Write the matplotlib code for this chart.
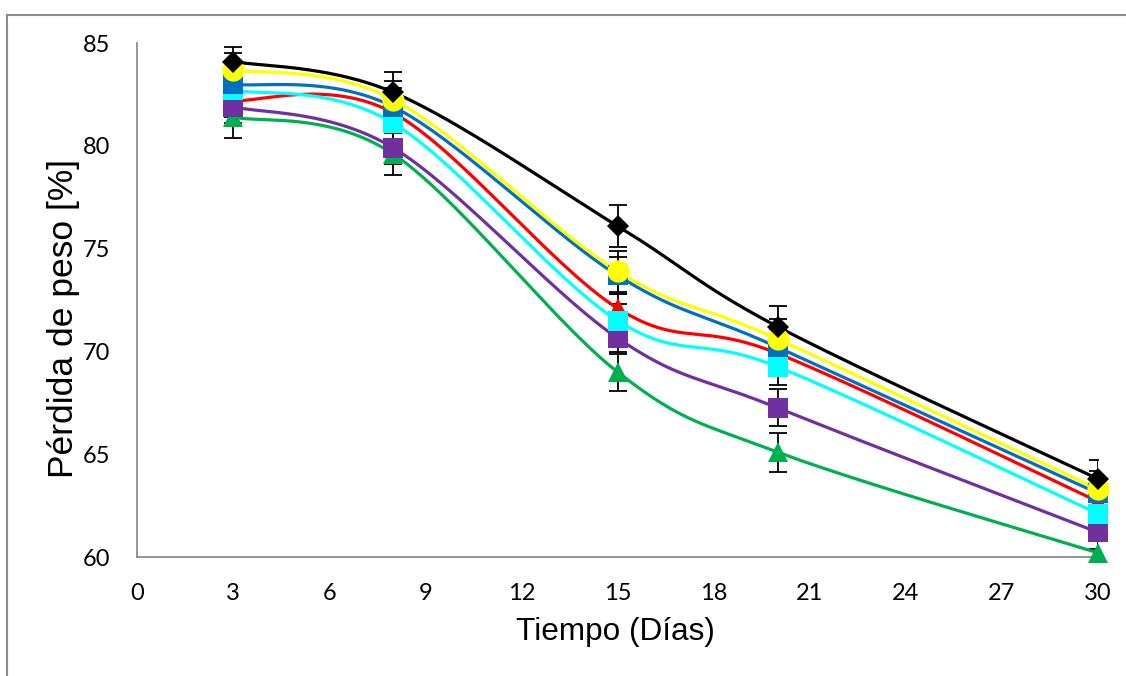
import numpy as np
import matplotlib
matplotlib.use("Agg")
import matplotlib.pyplot as plt
from matplotlib.lines import Line2D

# ---- data ----
days = [3, 8, 15, 20, 30]
black = [84.1, 82.6, 76.1, 71.2, 63.8]
yellow = [83.7, 82.25, 73.9, 70.6, 63.3]
blue = [83.0, 81.9, 73.7, 70.2, 63.1]
red = [82.2, 81.6, 72.1, 69.9, 62.7]
cyan = [82.7, 81.1, 71.5, 69.25, 62.1]
purple = [81.9, 79.9, 70.65, 67.25, 61.2]
green = [81.4, 79.6, 69.0, 65.1, 60.2]

err_black = [0.7, 1.0, 1.0, 1.0, 0.9]
err_yellow = [0.8, 0.9, 1.0, 1.0, 0.9]
err_blue = [0.8, 0.9, 0.9, 0.9, 0.8]
err_red = [0.8, 0.8, 0.7, 0.8, 0.8]
err_cyan = [0.8, 0.8, 0.8, 0.9, 0.8]
err_purple = [0.8, 0.8, 0.8, 0.9, 0.8]
err_green = [1.0, 1.0, 0.95, 0.95, 0.8]

xticks = [0, 3, 6, 9, 12, 15, 18, 21, 24, 27, 30]
yticks = [60, 65, 70, 75, 80, 85]


def smooth(xs, ys, n=60):
    """Excel-like smoothed line (Catmull-Rom as cubic Bezier)."""
    P = np.column_stack([xs, ys]).astype(float)
    m = len(P)
    out = []
    for i in range(m - 1):
        p0 = P[i - 1] if i > 0 else P[i]
        p1 = P[i]
        p2 = P[i + 1]
        p3 = P[i + 2] if i + 2 < m else P[i + 1]
        c1 = p1 + (p2 - p0) / 6.0
        c2 = p2 - (p3 - p1) / 6.0
        t = np.linspace(0, 1, n)[:, None]
        seg = ((1 - t) ** 3) * p1 + 3 * ((1 - t) ** 2) * t * c1 + 3 * (1 - t) * t ** 2 * c2 + t ** 3 * p2
        out.append(seg if i == 0 else seg[1:])
    s = np.vstack(out)
    return s[:, 0], s[:, 1]


fig = plt.figure(figsize=(11.26, 6.76), dpi=100)
ax = fig.add_axes([137 / 1126, 1 - 557 / 676, (1098 - 137) / 1126, (557 - 43) / 676])

series = [
    (green, err_green, "#00B050", "^", 15),
    (red, err_red, "#FF0000", "^", 15),
    (purple, err_purple, "#7030A0", "s", 14.5),
    (cyan, err_cyan, "#00FFFF", "s", 14.5),
    (blue, err_blue, "#0070C0", "s", 14.5),
    (yellow, err_yellow, "#FFFF00", "o", 16),
    (black, err_black, "#000000", "D", 11),
]

for k, (ys, es, col, mk, ms) in enumerate(series):
    ax.errorbar(days, ys, yerr=es, fmt="none", ecolor="black", elinewidth=1.3,
                capsize=6.5, capthick=1.3, zorder=2)
for k, (ys, es, col, mk, ms) in enumerate(series):
    sx, sy = smooth(days, ys)
    ax.plot(sx, sy, color=col, lw=2.3, zorder=3 + k * 0.01, solid_capstyle="butt")
for k, (ys, es, col, mk, ms) in enumerate(series):
    ax.plot(days, ys, linestyle="none", marker=mk, markersize=ms, color=col,
            markeredgewidth=0, zorder=5 + k * 0.1, clip_on=False)

ax.set_xlim(0, 30)
ax.set_ylim(60, 85)
ax.set_xticks(xticks)
ax.set_yticks(yticks)
ax.tick_params(length=0, labelsize=17, pad=19)
for lab in ax.get_xticklabels() + ax.get_yticklabels():
    lab.set_fontfamily("Lato")

for s in ["top", "right"]:
    ax.spines[s].set_visible(False)
for s in ["left", "bottom"]:
    ax.spines[s].set_color("#8C8C8C")
    ax.spines[s].set_linewidth(1.3)

ax.set_xlabel("Tiempo (Días)", fontsize=22.7, family="Liberation Sans")
ax.set_ylabel("Pérdida de peso [%]", fontsize=25.5, family="Liberation Sans")
ax.xaxis.set_label_coords((615 - 137) / 961, (557 - 617) / 514)
ax.yaxis.set_label_coords((80 - 137) / 961, (557 - 318) / 514)

# outer chart frame (partially visible)
fig.add_artist(Line2D([7 / 1126, 1.0], [1 - 15 / 676, 1 - 15 / 676], color="#8C8C8C", lw=1.5,
                      transform=fig.transFigure))
fig.add_artist(Line2D([7 / 1126, 7 / 1126], [1 - 15 / 676, 0.0], color="#8C8C8C", lw=1.5,
                      transform=fig.transFigure))

fig.savefig("out.png", dpi=100)
